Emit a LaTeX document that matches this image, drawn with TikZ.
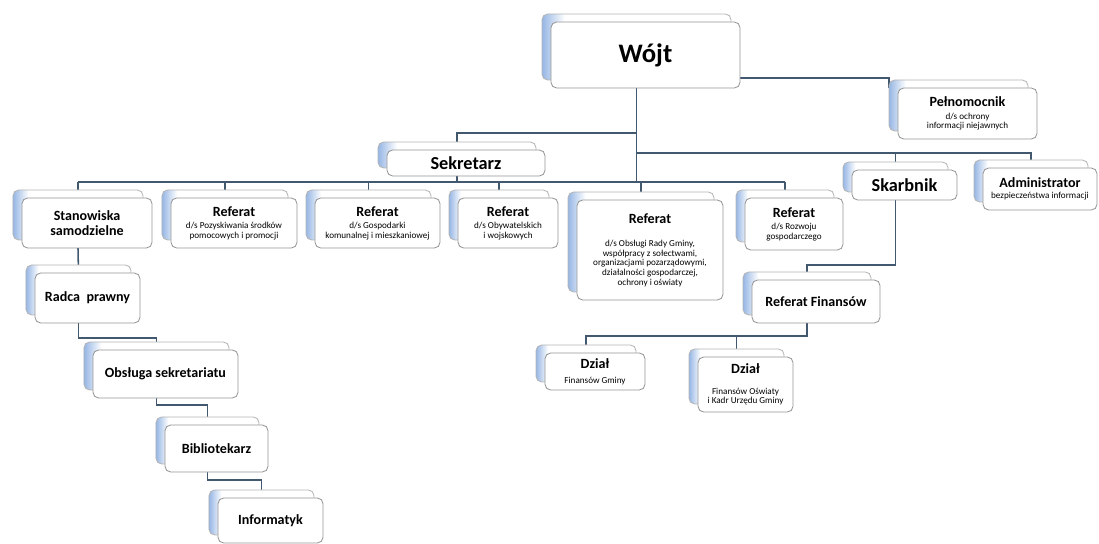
\documentclass[tikz,border=0pt]{standalone}
\usepackage{fontspec}
\setmainfont{Carlito}
\usetikzlibrary{shadows,backgrounds}

\definecolor{linec}{RGB}{66,88,110}
\definecolor{edgec}{RGB}{150,150,150}
\definecolor{backc}{RGB}{150,182,228}

\pgfdeclarehorizontalshading{cardback}{100bp}{color(0bp)=(backc); color(25bp)=(backc); color(31bp)=(white); color(100bp)=(white)}

\def\bigt{\fontsize{19}{21}\selectfont\bfseries}
\def\midt{\fontsize{13}{15}\selectfont\bfseries}
\def\titt{\fontsize{10}{12}\selectfont\bfseries}
\def\subt{\fontsize{6.5}{6.8}\selectfont}

\tikzset{
  unit/.style={draw=edgec, line width=0.6pt, rounded corners=4pt, fill=white,
    align=center, inner sep=1pt, outer sep=0pt, font=\subt,
    general shadow={shadow xshift=-0.225cm, shadow yshift=0.2cm,
      draw=edgec!70, shade, shading=cardback}},
  wh/.style 2 args={minimum width=#1*0.025cm, minimum height=#2*0.025cm},
  link/.style={draw=linec, line width=1.1pt},
}

\begin{document}
\begin{tikzpicture}[x=0.025cm, y=-0.025cm]
\useasboundingbox (0,0) rectangle (1099,544);

% top
\node[unit, wh={189}{66}] (wojt) at (645.5,55) {\bigt Wójt};
\node[unit, wh={139}{51}] (peln) at (967.5,113.5) {\titt Pełnomocnik\\[2pt] d/s ochrony\\ informacji niejawnych};
\node[unit, wh={158}{26}] (sek) at (466,163) {\midt Sekretarz};
\node[unit, wh={105}{30}] (skarb) at (904.5,185) {\midt Skarbnik};
\node[unit, wh={114}{42}] (admin) at (1040,189) {\titt Administrator\\[1pt] bezpieczeństwa informacji};

% row of referats
\node[unit, wh={130}{50}] (stan) at (87,223) {\titt Stanowiska\\[3pt] \titt samodzielne};
\node[unit, wh={126}{50}] (ref2) at (234,223) {\titt Referat\\[2pt] d/s Pozyskiwania środków\\ pomocowych i promocji};
\node[unit, wh={125}{50}] (ref3) at (377.5,223) {\titt Referat\\[2pt] d/s Gospodarki\\ komunalnej i mieszkaniowej};
\node[unit, wh={100}{50}] (ref4) at (508,223) {\titt Referat\\[2pt] d/s Obywatelskich\\ i wojskowych};
\node[unit, wh={146}{100}] (ref5) at (650,250) {\titt Referat\\[10pt] d/s Obsługi Rady Gminy,\\ współpracy z sołectwami,\\ organizacjami pozarządowymi,\\ działalności gospodarczej,\\ ochrony i oświaty};
\node[unit, wh={98}{52}] (ref6) at (794,224) {\titt Referat\\[2pt] d/s Rozwoju\\ gospodarczego};

% left chain
\node[unit, wh={105}{50}] (radca) at (87.5,298) {\titt Radca\ \ prawny};
\node[unit, wh={145}{48}] (obs) at (165.5,374) {\titt Obsługa sekretariatu};
\node[unit, wh={103}{47}] (bibl) at (216.5,448.5) {\titt Bibliotekarz};
\node[unit, wh={105}{45}] (inf) at (270.5,520.5) {\titt Informatyk};

% finances
\node[unit, wh={128}{43}] (rfin) at (816,301.5) {\titt Referat Finansów};
\node[unit, wh={100}{37}] (dz1) at (595,371.5) {\titt Dział\\[4pt] Finansów Gminy};
\node[unit, wh={95}{55}] (dz2) at (745.5,384.5) {\titt Dział\\[8pt] Finansów Oświaty\\ i Kadr Urzędu Gminy};

% middle of the back cards
\foreach \n in {wojt,peln,sek,skarb,admin,stan,ref2,ref3,ref4,ref5,ref6,radca,obs,bibl,inf,rfin,dz1,dz2} {
  \coordinate (\n-n) at ([xshift=-0.225cm]\n.north);
  \coordinate (\n-s) at ([xshift=-0.225cm]\n.south);
}
\coordinate (pbar) at (0,78);
\coordinate (sekbar) at (0,133);
\coordinate (rbar) at (0,153);
\coordinate (bus) at (0,182);

\begin{scope}[on background layer]
  \draw[link] (wojt-s) -- (wojt-s |- bus);
  \draw[link] (wojt.east |- pbar) -| ([xshift=-0.225cm]peln.north west);
  \draw[link] (wojt-s |- sekbar) -| (sek-n);
  \draw[link] (wojt-s |- rbar) -| (admin-n);
  \draw[link] (skarb-n |- rbar) -- (skarb-n);
  \draw[link] (sek-s) -- (sek-s |- bus);
  \draw[link] (stan-n |- bus) -- (ref6-n |- bus);
  \foreach \n in {stan,ref2,ref3,ref4,ref5,ref6}
    \draw[link] (\n-n |- bus) -- (\n-n);
  % left chain
  \draw[link] (stan-s) -- (radca-n);
  \draw[link] (radca-s) -- ++(0,15) -| (obs-n);
  \draw[link] (obs-s) -- ++(0,7) -| (bibl-n);
  \draw[link] (bibl-s) -- ++(0,8) -| (inf-n);
  % finances
  \draw[link] (skarb-s) -- ++(0,65) -| (rfin-n);
  \draw[link] (rfin-s) -- ++(0,13) coordinate (dzbar) -| (dz1-n);
  \draw[link] (dzbar) -| (dz2-n);
\end{scope}
\end{tikzpicture}
\end{document}
